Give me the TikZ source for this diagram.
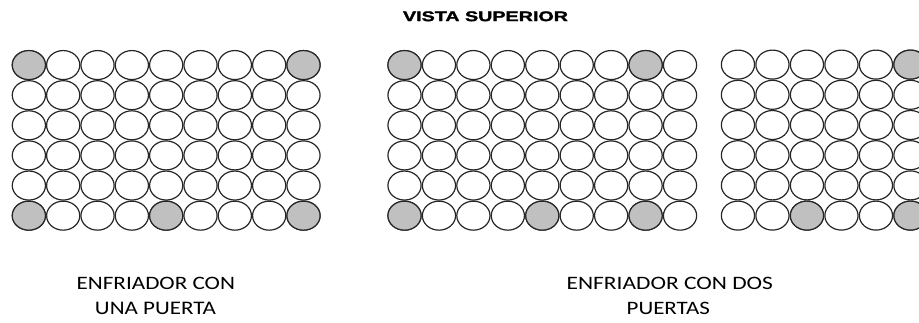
\documentclass[tikz,border=0pt]{standalone}
\usepackage{fontspec}
\usepackage{graphicx}
\setmainfont{Carlito}
\newfontfamily\titlefont[BoldFeatures={FakeBold=1.5}]{Liberation Sans}
\usetikzlibrary{shapes.geometric}
\definecolor{cellgray}{HTML}{C0C0C0}
\definecolor{edge}{HTML}{262626}
\tikzset{
  cell/.style={ellipse, draw=edge, line width=1.2pt, fill=white, inner sep=0pt,
    minimum width=33.2pt, minimum height=29pt},
  door/.style={cell, fill=cellgray},
  lbl/.style={inner sep=0pt, anchor=center, text=black}
}
\begin{document}
\begin{tikzpicture}[x=1pt,y=-1pt]
\useasboundingbox (0,0) rectangle (919,322);
\fill[white] (0,0) rectangle (919,322);
\begin{scope}
\clip (0,0) rectangle (919,322);
% left grid: 9 x 6
\foreach \r in {1,...,6}{
  \foreach \c in {1,...,9}{
    \node[cell] (L-\r-\c) at ({11.7+17.17+34.33*(\c-1)},{50+15.06+30.12*(\r-1)}) {};
  }
}
\foreach \r/\c in {1/1,1/9,6/1,6/5,6/9}{
  \node[door] (LD-\r-\c) at ({11.7+17.17+34.33*(\c-1)},{50+15.06+30.12*(\r-1)}) {};
}
% middle grid: 9 x 6
\foreach \r in {1,...,6}{
  \foreach \c in {1,...,9}{
    \node[cell] (M-\r-\c) at ({387.3+17.22+34.44*(\c-1)},{50+15.06+30.12*(\r-1)}) {};
  }
}
\foreach \r/\c in {1/1,1/8,6/1,6/5,6/8}{
  \node[door] (MD-\r-\c) at ({387.3+17.22+34.44*(\c-1)},{50+15.06+30.12*(\r-1)}) {};
}
% right grid: 6 columns, last clipped
\foreach \r in {1,...,6}{
  \foreach \c in {1,...,6}{
    \node[cell] (R-\r-\c) at ({720.7+17.25+34.5*(\c-1)},{49.5+15.1+30.2*(\r-1)}) {};
  }
}
\foreach \r/\c in {1/6,6/3,6/6}{
  \node[door] (RD-\r-\c) at ({720.7+17.25+34.5*(\c-1)},{49.5+15.1+30.2*(\r-1)}) {};
}
\end{scope}
% texts
\node[lbl] (title) at (485.5,16.3) {\resizebox{165pt}{9.8pt}{\titlefont\bfseries VISTA SUPERIOR}};
\node[lbl] (l1a) at (155.8,283.8) {\resizebox{158.3pt}{12.3pt}{ENFRIADOR CON}};
\node[lbl] (l1b) at (155.5,308.3) {\resizebox{121pt}{12.3pt}{UNA PUERTA}};
\node[lbl] (l2a) at (669.8,283.8) {\resizebox{206.3pt}{12.3pt}{ENFRIADOR CON DOS}};
\node[lbl] (l2b) at (668.3,308.3) {\resizebox{83.3pt}{12.3pt}{PUERTAS}};
\end{tikzpicture}
\end{document}
